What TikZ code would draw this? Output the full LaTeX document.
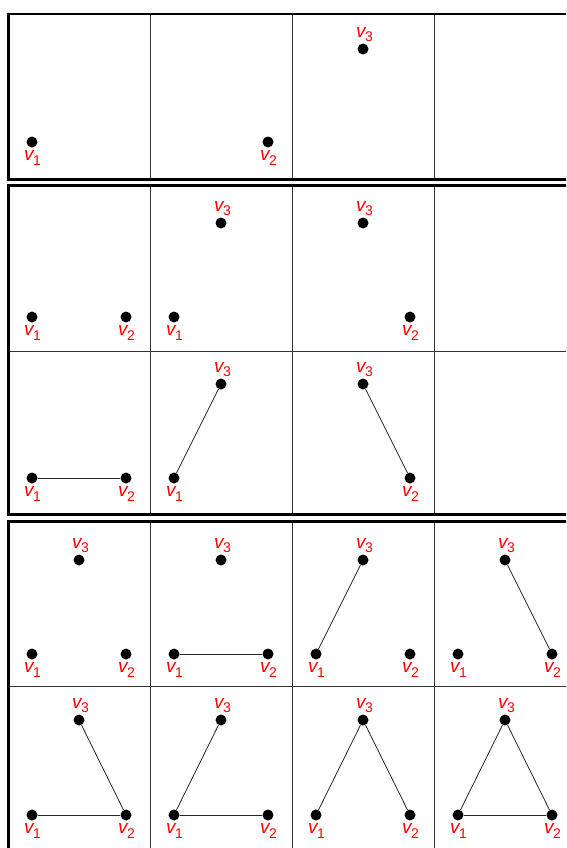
\documentclass[tikz,border=0pt]{standalone}
\usepackage{fontspec}
\setmainfont{Liberation Sans}
\newcommand\vlab[1]{{\itshape v}\kern-0.3pt{\fontsize{14}{14}\selectfont\raisebox{-4.5pt}{#1}}}
\newcommand\vtx[5]{%
  \node[dot] (#1) at (#2,#3) {};
  \ifnum#5=1
    \node[lab,anchor=north,xshift=0.5pt,yshift=-3pt] (#1l) at (#1.south) {\vlab{#4}};
  \else
    \node[lab,anchor=south,xshift=1.5pt,yshift=1pt] (#1l) at (#1.north) {\vlab{#4}};
  \fi}
\begin{document}
\begin{tikzpicture}[x=1pt,y=-1pt,
  dot/.style={circle,fill=black,inner sep=0pt,minimum size=11pt},
  lab/.style={text=red,inner sep=0pt,font=\fontsize{19}{19}\selectfont},
  blockline/.style={line width=2.8pt,black},
  gridline/.style={line width=0.8pt,black!80},
  edge/.style={line width=0.8pt,black!85}]
\clip (0,0) rectangle (566,848);
\fill[white] (0,0) rectangle (566,848);
% grid lines
\foreach \xx in {150.5,292.5,434.5}{
  \draw[gridline] (\xx,14) -- (\xx,179.5);
  \draw[gridline] (\xx,185.3) -- (\xx,514.7);
  \draw[gridline] (\xx,521.5) -- (\xx,860);
}
\draw[gridline] (8.7,351.5) -- (580,351.5);
\draw[gridline] (8.7,686.7) -- (580,686.7);
\draw[blockline] (8.7,14) rectangle (580,179.5);
\draw[blockline] (8.7,185.3) rectangle (580,514.7);
\draw[blockline] (8.7,521.5) rectangle (580,870);
% row 1
\vtx{a1}{32}{142}{1}{1}
\vtx{b2}{268}{142}{2}{1}
\vtx{c3}{363}{49}{3}{0}
% row 2
\vtx{d1}{32}{317}{1}{1}
\vtx{d2}{126}{317}{2}{1}
\vtx{e1}{174}{317}{1}{1}
\vtx{e3}{221}{223}{3}{0}
\vtx{f2}{410}{317}{2}{1}
\vtx{f3}{363}{223}{3}{0}
% row 3
\vtx{g1}{32}{478}{1}{1}
\vtx{g2}{126}{478}{2}{1}
\vtx{h1}{174}{478}{1}{1}
\vtx{h3}{221}{384}{3}{0}
\vtx{i2}{410}{478}{2}{1}
\vtx{i3}{363}{384}{3}{0}
\draw[edge] (g1) -- (g2);
\draw[edge] (h1) -- (h3);
\draw[edge] (i2) -- (i3);
% row 4
\vtx{j1}{32}{654}{1}{1}
\vtx{j2}{126}{654}{2}{1}
\vtx{j3}{79}{560}{3}{0}
\vtx{k1}{174}{654}{1}{1}
\vtx{k2}{268}{654}{2}{1}
\vtx{k3}{221}{560}{3}{0}
\vtx{l1}{316}{654}{1}{1}
\vtx{l2}{410}{654}{2}{1}
\vtx{l3}{363}{560}{3}{0}
\vtx{m1}{458}{654}{1}{1}
\vtx{m2}{552}{654}{2}{1}
\vtx{m3}{505}{560}{3}{0}
\draw[edge] (k1) -- (k2);
\draw[edge] (l1) -- (l3);
\draw[edge] (m2) -- (m3);
% row 5
\vtx{n1}{32}{815}{1}{1}
\vtx{n2}{126}{815}{2}{1}
\vtx{n3}{79}{720}{3}{0}
\vtx{o1}{174}{815}{1}{1}
\vtx{o2}{268}{815}{2}{1}
\vtx{o3}{221}{720}{3}{0}
\vtx{p1}{316}{815}{1}{1}
\vtx{p2}{410}{815}{2}{1}
\vtx{p3}{363}{720}{3}{0}
\vtx{q1}{458}{815}{1}{1}
\vtx{q2}{552}{815}{2}{1}
\vtx{q3}{505}{720}{3}{0}
\draw[edge] (n1) -- (n2);
\draw[edge] (n2) -- (n3);
\draw[edge] (o1) -- (o3);
\draw[edge] (o1) -- (o2);
\draw[edge] (p1) -- (p3);
\draw[edge] (p2) -- (p3);
\draw[edge] (q1) -- (q2);
\draw[edge] (q2) -- (q3);
\draw[edge] (q1) -- (q3);
\end{tikzpicture}
\end{document}
